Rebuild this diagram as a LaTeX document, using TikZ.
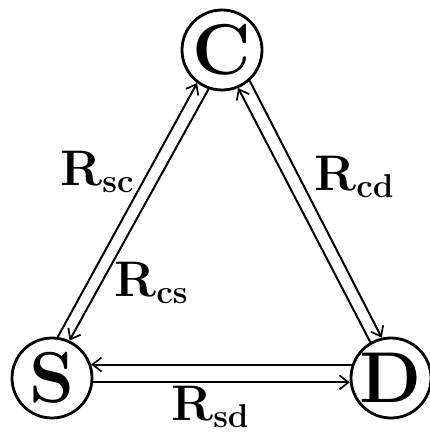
\documentclass[tikz,border=0pt]{standalone}
\usetikzlibrary{arrows.meta}
\tikzset{
  station/.style={circle, draw, line width=2.8pt, minimum size=80pt, inner sep=0pt,
    font=\fontsize{72}{72}\selectfont\bfseries},
  link/.style={line width=2pt, -{Straight Barb[length=9pt,width=14pt,line width=1.7pt]}},
  rlabel/.style={inner sep=0pt}
}
\newcommand{\Rlab}[1]{{\fontsize{50}{50}\selectfont\bfseries R}\raisebox{-7pt}{\fontsize{33}{33}\selectfont\bfseries #1}}
\begin{document}
\begin{tikzpicture}[x=1pt,y=-1pt]
\useasboundingbox (0,0) rectangle (429,436);
\node[station] (C) at (222,50) {C};
\node[station] (S) at (52,378) {S};
\node[station] (D) at (391,378) {D};
% S - C
\draw[link] (S.82) -- (C.233);
\draw[link] (C.251) -- (S.65);
% C - D
\draw[link] (D.120) -- (C.293);
\draw[link] (C.312) -- (D.103);
% S - D
\draw[link] (D.161) -- (S.19);
\draw[link] (S.354) -- (D.186);
% labels
\node[rlabel] (lsc) at (97,172) {\Rlab{sc}};
\node[rlabel] (lcs) at (151,283) {\Rlab{cs}};
\node[rlabel] (lcd) at (354,177) {\Rlab{cd}};
\node[rlabel] (lsd) at (210,407) {\Rlab{sd}};
\end{tikzpicture}
\end{document}
